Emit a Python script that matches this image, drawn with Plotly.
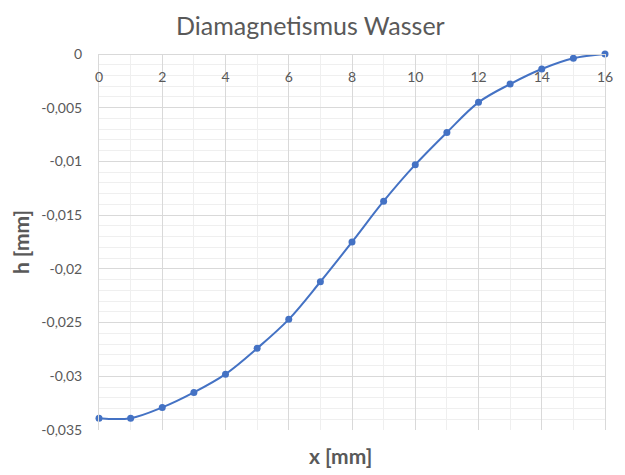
import plotly.graph_objects as go

# Measured profile of the water surface
x_mm = list(range(17))
h_mm = [-0.0339, -0.0339, -0.0329, -0.0315, -0.0298, -0.0274, -0.0247, -0.0212,
        -0.0175, -0.0137, -0.0103, -0.0073, -0.0045, -0.0028, -0.0014, -0.0004, 0.0]

x_ticks = [0, 2, 4, 6, 8, 10, 12, 14, 16]
y_ticks = [0, -0.005, -0.01, -0.015, -0.02, -0.025, -0.03, -0.035]
y_tick_labels = ["0", "-0,005", "-0,01", "-0,015", "-0,02", "-0,025", "-0,03", "-0,035"]

grey = "#595959"
major = "#d9d9d9"
minor = "#efefef"
font = "Lato"

fig = go.Figure()
fig.add_trace(go.Scatter(
    x=x_mm, y=h_mm, mode="lines+markers",
    line=dict(color="#4472C4", width=2, shape="spline"),
    marker=dict(color="#4472C4", size=7),
    cliponaxis=False,
    showlegend=False,
))

# the page body adds an 8px offset, so margins are shifted to compensate
fig.update_layout(
    width=617, height=467,
    margin=dict(l=91, r=20, t=46, b=45),
    paper_bgcolor="white", plot_bgcolor="white",
    font=dict(family=font, color=grey, size=14),
    xaxis=dict(
        range=[0, 16], tickvals=x_ticks,
        anchor="free", position=1, side="bottom", automargin=False,
        showgrid=True, gridcolor=major, gridwidth=1,
        minor=dict(dtick=1, showgrid=True, gridcolor=minor),
        zeroline=False, showline=True, linecolor=major, mirror=True,
        ticks="", ticklabelstandoff=10,
        tickfont=dict(size=14, color=grey),
    ),
    yaxis=dict(
        range=[-0.035, 0], tickvals=y_ticks, ticktext=y_tick_labels,
        automargin=False,
        showgrid=True, gridcolor=major, gridwidth=1,
        minor=dict(dtick=0.001, showgrid=True, gridcolor=minor),
        zeroline=False, showline=True, linecolor=major, mirror=True,
        ticks="", ticklabelstandoff=13,
        tickfont=dict(size=14, color=grey),
        title=dict(text="<b>h [mm]</b>", standoff=12,
                   font=dict(family=font, size=21, color=grey)),
    ),
)

# chart title as an annotation so it sits just inside the page top
fig.add_annotation(text="Diamagnetismus Wasser", xref="paper", yref="paper",
                   x=0.418, y=1.078, xanchor="center", yanchor="middle",
                   showarrow=False,
                   font=dict(family=font, size=25, color=grey))

# x axis title sits below the plot while the tick labels stay at the top
fig.add_annotation(text="<b>x [mm]</b>", xref="paper", yref="paper",
                   x=0.478, y=-0.068, yanchor="middle", showarrow=False,
                   font=dict(family=font, size=21, color=grey))

fig.write_html("out.html")
